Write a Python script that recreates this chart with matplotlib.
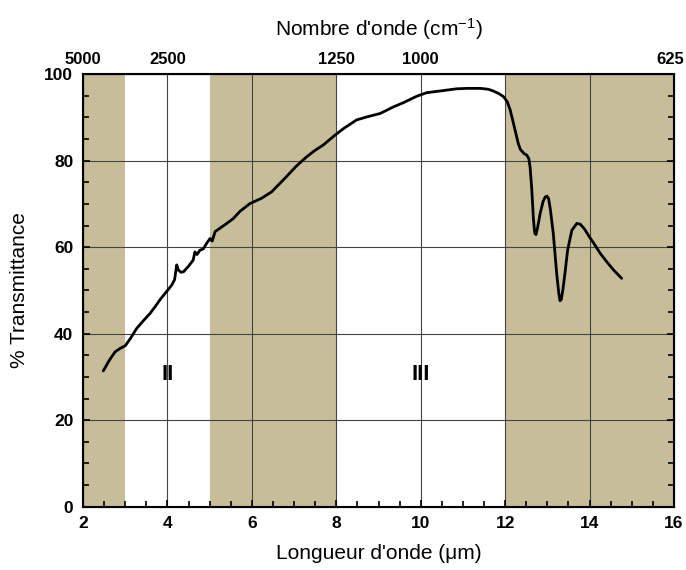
import matplotlib
matplotlib.use("Agg")
import matplotlib.pyplot as plt
import matplotlib.transforms as mtransforms
from matplotlib.ticker import MultipleLocator

plt.rcParams['font.family'] = ['Liberation Sans', 'DejaVu Sans']
plt.rcParams['mathtext.default'] = 'regular'

# Data
wavelength = [2.48, 2.62, 2.76, 2.88, 3.00, 3.13, 3.27, 3.43, 3.59, 3.72, 3.82, 3.96,
              4.10, 4.17, 4.22, 4.26, 4.32, 4.38, 4.50, 4.61, 4.65, 4.70, 4.77, 4.85,
              4.93, 5.01, 5.06, 5.13, 5.35, 5.56, 5.72, 5.96, 6.23, 6.47, 6.82, 7.05,
              7.30, 7.50, 7.69, 7.97, 8.17, 8.48, 8.72, 9.04, 9.35, 9.59, 9.91, 10.14,
              10.46, 10.85, 11.10, 11.41, 11.60, 11.72, 11.85, 11.96, 12.05, 12.12, 12.20,
              12.31, 12.36, 12.45, 12.51, 12.56, 12.59, 12.63, 12.67, 12.70, 12.73, 12.77,
              12.83, 12.90, 12.95, 12.99, 13.03, 13.07, 13.14, 13.22, 13.27, 13.30, 13.33,
              13.37, 13.42, 13.48, 13.58, 13.70, 13.78, 13.88, 14.00, 14.10, 14.25, 14.40,
              14.57, 14.76]
transmittance = [31.4, 33.8, 35.8, 36.6, 37.2, 39.0, 41.2, 43.0, 44.7, 46.4, 47.8, 49.5,
                 51.2, 52.5, 55.9, 54.7, 54.2, 54.3, 55.6, 57.0, 58.9, 58.3, 59.3, 59.6,
                 60.9, 62.0, 61.4, 63.6, 65.1, 66.6, 68.3, 70.1, 71.3, 72.8, 76.3, 78.7,
                 80.9, 82.4, 83.6, 85.9, 87.4, 89.4, 90.1, 90.9, 92.4, 93.4, 94.9, 95.7,
                 96.1, 96.6, 96.7, 96.7, 96.5, 96.1, 95.5, 94.8, 93.6, 91.7, 88.5,
                 84.0, 82.6, 81.6, 81.3, 80.5, 78.6, 73.5, 66.5, 63.3, 62.9, 64.6,
                 67.8, 70.6, 71.6, 71.8, 71.2, 68.8, 63.2, 54.0, 49.4, 47.6, 47.9,
                 50.3, 54.2, 59.3, 63.9, 65.5, 65.3, 64.2, 62.3, 60.9, 58.6, 56.7,
                 54.7, 52.8]

bands = [(2, 3), (5, 8), (12, 16)]
top_tick_pos = [2, 4, 8, 10, 16]
top_tick_labels = ['5000', '2500', '1250', '1000', '625']

fig = plt.figure(figsize=(6.86, 5.70), dpi=100)
ax = fig.add_axes([0.121, 0.111, 0.8615, 0.759])

for a, b in bands:
    ax.axvspan(a, b, color='#C8BD99', zorder=0, lw=0)

ax.set_xlim(2, 16)
ax.set_ylim(0, 100)
ax.xaxis.set_major_locator(MultipleLocator(2))
ax.xaxis.set_minor_locator(MultipleLocator(0.5))
ax.yaxis.set_major_locator(MultipleLocator(20))
ax.yaxis.set_minor_locator(MultipleLocator(5))
ax.grid(True, which='major', color='#444444', lw=0.8, zorder=1)
ax.set_axisbelow(True)

ax.plot(wavelength, transmittance, color='black', lw=2.0, zorder=3,
        solid_joinstyle='round', solid_capstyle='round')

ax.tick_params(which='both', direction='in', top=True, right=True, width=1.2)
ax.tick_params(which='major', length=5, labelsize=12.5, pad=7)
ax.tick_params(which='minor', length=4)
for lab in ax.get_xticklabels() + ax.get_yticklabels():
    lab.set_fontweight('bold')
for s in ax.spines.values():
    s.set_linewidth(1.5)

ax.set_xlabel("Longueur d'onde (\u03bcm)", fontsize=15, labelpad=9)
ax.set_ylabel("% Transmittance", fontsize=15, labelpad=11)

top = ax.twiny()
top.set_xlim(ax.get_xlim())
top.set_xticks(top_tick_pos)
top.set_xticklabels(top_tick_labels, fontweight='bold', fontsize=12)
top.tick_params(axis='x', length=0, pad=5)
top.set_xlabel("Nombre d'onde (cm$^{-1}$)", fontsize=15, labelpad=12)
last = top.get_xticklabels()[-1]
last.set_horizontalalignment('right')
last.set_transform(last.get_transform() +
                   mtransforms.ScaledTranslation(10 / 100, 0, fig.dpi_scale_trans))

ax.text(4.0, 30.5, 'II', fontsize=16, fontweight='bold', ha='center', va='center', zorder=4)
ax.text(10.0, 30.5, 'III', fontsize=16, fontweight='bold', ha='center', va='center', zorder=4)

fig.savefig('out.png', dpi=100)
